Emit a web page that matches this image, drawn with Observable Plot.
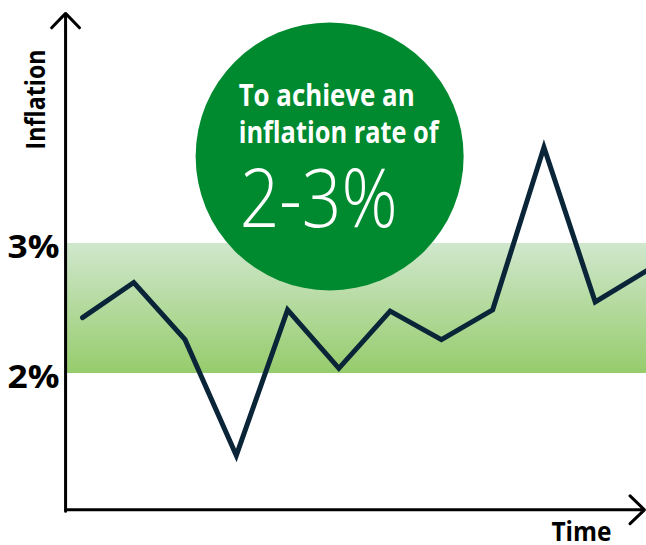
<!DOCTYPE html>
<html>
<head>
<meta charset="utf-8">
<script src="https://cdn.jsdelivr.net/npm/d3@7"></script>
<script src="https://cdn.jsdelivr.net/npm/@observablehq/plot@0.6"></script>
<style>
  html, body { margin: 0; padding: 0; background: #fff; }
  svg { display: block; }
</style>
</head>
<body>
<div id="chart"></div>
<script>
// ---- data ----
const times = [0, 1, 2, 3, 4, 5, 6, 7, 8, 9, 10, 11];
const inflation = [2.43, 2.70, 2.26, 1.37, 2.49, 2.04, 2.48, 2.26, 2.49, 3.74, 2.55, 2.79];
const targetBand = [2, 3];            // target range, %
const tickValues = [2, 3];
const tickLabels = ["2%", "3%"];
const yAxisLabel = "Inflation";
const xAxisLabel = "Time";
const badgeLines = ["To achieve an", "inflation rate of"];
const badgeBig = "2-3%";

// axis extents (in data units)
const axisTimeStart = -0.33;
const axisTimeEnd = 10.96;
const axisValueBottom = 0.94;
const axisValueTop = 4.77;
// badge centre (in data units)
const badgeTime = 4.82;
const badgeValue = 3.67;

const series = times.map((t, i) => ({t, v: inflation[i]}));
const ticks = tickValues.map((v, i) => ({v, label: tickLabels[i]}));

const font = "'Open Sans', 'DejaVu Sans', sans-serif";
const ink = "#000";

const plot = Plot.plot({
  width: 646,
  height: 545,
  margin: 0,
  style: {fontFamily: font, background: "#fff"},
  x: {domain: [0, 11], range: [82, 646], axis: null},
  y: {domain: [2, 3], range: [373, 243], axis: null},
  marks: [
    Plot.rect([targetBand], {
      x1: axisTimeStart, x2: 11, y1: d => d[0], y2: d => d[1],
      fill: "url(#bandGrad)"
    }),
    Plot.line(series, {
      x: "t", y: "v", stroke: "#0b2538", strokeWidth: 5,
      strokeLinejoin: "miter", strokeMiterlimit: 10
    }),
    Plot.arrow([0], {
      x1: axisTimeStart, x2: axisTimeStart, y1: axisValueBottom, y2: axisValueTop,
      stroke: ink, strokeWidth: 3, headAngle: 88, headLength: 10,
      strokeLinejoin: "miter"
    }),
    Plot.arrow([0], {
      x1: axisTimeStart, x2: axisTimeEnd, y1: axisValueBottom, y2: axisValueBottom,
      stroke: ink, strokeWidth: 3, headAngle: 88, headLength: 10,
      strokeLinejoin: "miter", dy: -1.5
    }),
    Plot.dot([0], {x: badgeTime, y: badgeValue, r: 134, fill: "#008a2f", stroke: null}),
    Plot.text([badgeLines.join("\n")], {
      x: badgeTime, y: badgeValue, text: d => d, dx: -91, dy: -13,
      textAnchor: "start", lineAnchor: "bottom", lineHeight: 37 / 30, fill: "#fff",
      fontSize: 30, fontWeight: 700
    }),
    Plot.text([badgeBig], {
      x: badgeTime, y: badgeValue, text: d => d, dx: -90, dy: 71,
      textAnchor: "start", lineAnchor: "bottom", fill: "#fff",
      fontSize: 82, fontWeight: 300
    }),
    Plot.text(ticks, {
      x: axisTimeStart, y: "v", text: "label", dx: -6, dy: 14,
      textAnchor: "end", lineAnchor: "bottom", fill: ink,
      fontSize: 33, fontWeight: 700
    }),
    Plot.text([yAxisLabel], {
      x: axisTimeStart, y: axisValueTop, text: d => d, dx: -21, dy: 86,
      rotate: -90, textAnchor: "middle", lineAnchor: "bottom", fill: ink,
      fontSize: 26, fontWeight: 700
    }),
    Plot.text([xAxisLabel], {
      x: axisTimeEnd, y: axisValueBottom, text: d => d, dx: -63, dy: 30,
      textAnchor: "middle", lineAnchor: "bottom", fill: ink,
      fontSize: 26, fontWeight: 700
    })
  ]
});

// vertical gradient for the target band
const defs = d3.select(plot).insert("defs", ":first-child");
const grad = defs.append("linearGradient")
  .attr("id", "bandGrad").attr("x1", 0).attr("y1", 0).attr("x2", 0).attr("y2", 1);
grad.append("stop").attr("offset", "0%").attr("stop-color", "#d0e7cd");
grad.append("stop").attr("offset", "100%").attr("stop-color", "#96cc6c");

// fit the (narrower) original typeface widths
const fitWidths = new Map([
  [badgeLines[0], 176], [badgeLines[1], 200], [badgeBig, 158],
  [yAxisLabel, 100], [xAxisLabel, 60], ["2%", 52], ["3%", 52]
]);
d3.select(plot).selectAll("text, tspan").each(function() {
  if (this.tagName === "text" && this.querySelector("tspan")) return;
  const w = fitWidths.get(this.textContent);
  if (w) {
    this.setAttribute("textLength", w);
    this.setAttribute("lengthAdjust", "spacingAndGlyphs");
  }
});

document.getElementById("chart").appendChild(plot);
</script>
</body>
</html>
